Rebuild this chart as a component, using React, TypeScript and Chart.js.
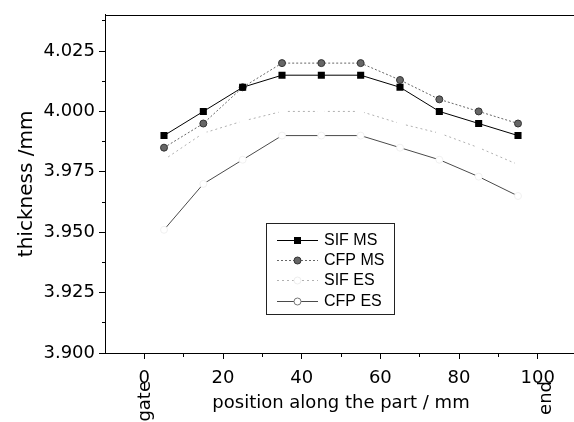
import React, { useEffect, useRef } from 'react';
import { Chart, registerables } from 'chart.js';

Chart.register(...registerables);

// ---- data ----
const positions = [5, 15, 25, 35, 45, 55, 65, 75, 85, 95];
const sifMS = [3.990, 4.000, 4.010, 4.015, 4.015, 4.015, 4.010, 4.000, 3.995, 3.990];
const cfpMS = [3.985, 3.995, 4.010, 4.020, 4.020, 4.020, 4.013, 4.005, 4.000, 3.995];
const sifES = [3.980, 3.991, 3.996, 4.000, 4.000, 4.000, 3.995, 3.991, 3.985, 3.978];
const cfpES = [3.951, 3.970, 3.980, 3.990, 3.990, 3.990, 3.985, 3.980, 3.973, 3.965];
const seriesNames = ['SIF MS', 'CFP MS', 'SIF ES', 'CFP ES'];

const xMajorTicks = [0, 20, 40, 60, 80, 100];
const xMinorTicks = [10, 30, 50, 70, 90, 110];
const yMajorTicks = [3.900, 3.925, 3.950, 3.975, 4.000, 4.025];
const yMinorTicks = [3.9125, 3.9375, 3.9625, 3.9875, 4.0125, 4.0375];
const xEndValues = [0, 102];
const xEndTexts = ['gate', 'end'];
const xTitle = 'position along the part / mm';
const yTitle = 'thickness /mm';

const isIn = (arr: number[], v: number) => arr.some((a) => Math.abs(a - v) < 1e-6);

const toPts = (ys: number[]) => positions.map((x, i) => ({ x, y: ys[i] }));

const CANVAS_W = 586;
const CANVAS_H = 422;

const extrasPlugin = {
  id: 'extras',
  afterDraw(chart: any) {
    const { ctx, chartArea, scales } = chart;
    ctx.save();
    // top frame line
    ctx.strokeStyle = '#000';
    ctx.lineWidth = 1;
    ctx.setLineDash([]);
    const ty = Math.round(chartArea.top) + 0.5;
    ctx.beginPath();
    ctx.moveTo(chartArea.left, ty);
    ctx.lineTo(chartArea.right, ty);
    ctx.stroke();

    // rotated end labels
    ctx.fillStyle = '#000';
    ctx.font = '18px "DejaVu Sans"';
    ctx.textAlign = 'right';
    ctx.textBaseline = 'middle';
    xEndValues.forEach((v, i) => {
      const px = scales.x.getPixelForValue(v);
      ctx.save();
      ctx.translate(px + 1, 381);
      ctx.rotate(-Math.PI / 2);
      ctx.fillText(xEndTexts[i], 0, 0);
      ctx.restore();
    });

    // legend box
    const bx = 266.5, by = 223.5, bw = 128, bh = 91;
    ctx.fillStyle = '#fff';
    ctx.fillRect(bx, by, bw, bh);
    ctx.strokeStyle = '#222';
    ctx.lineWidth = 1;
    ctx.strokeRect(bx, by, bw, bh);
    const legendMarker = [
      { fill: '#000', stroke: '#000' },
      { fill: '#666', stroke: '#333' },
      { fill: '#fff', stroke: '#eee' },
      { fill: '#fff', stroke: '#777' },
    ];
    ctx.font = '16px "Liberation Sans", Arial, sans-serif';
    ctx.textAlign = 'left';
    ctx.textBaseline = 'middle';
    chart.data.datasets.forEach((ds: any, i: number) => {
      const y = Math.round(240 + i * 20.2) + 0.5;
      ctx.strokeStyle = ds.borderColor;
      ctx.lineWidth = ds.borderWidth;
      ctx.setLineDash(ds.borderDash || []);
      ctx.beginPath();
      ctx.moveTo(277, y);
      ctx.lineTo(318, y);
      ctx.stroke();
      ctx.setLineDash([]);
      const m = legendMarker[i];
      ctx.fillStyle = m.fill;
      ctx.strokeStyle = m.stroke;
      if (ds.pointStyle === 'rect') {
        ctx.fillRect(294, y - 3.5, 7, 7);
      } else {
        ctx.beginPath();
        ctx.arc(297.5, y, 3.5, 0, Math.PI * 2);
        ctx.fill();
        ctx.stroke();
      }
      ctx.fillStyle = '#000';
      ctx.fillText(ds.label, 324, y + 0.5);
    });
    ctx.restore();
  },
};

export default function App() {
  const ref = useRef<HTMLCanvasElement | null>(null);

  useEffect(() => {
    if (!ref.current) return;
    const chart = new Chart(ref.current, {
      type: 'line',
      data: {
        datasets: [
          {
            label: seriesNames[0],
            data: toPts(sifMS),
            borderColor: '#000',
            borderWidth: 1,
            pointStyle: 'rect',
            pointRadius: 5,
            pointHoverRadius: 5,
            pointBackgroundColor: '#000',
            pointBorderColor: '#000',
            pointBorderWidth: 0,
          },
          {
            label: seriesNames[1],
            data: toPts(cfpMS),
            borderColor: '#666',
            borderWidth: 1,
            borderDash: [2, 2],
            pointStyle: 'circle',
            pointRadius: 3.5,
            pointHoverRadius: 3.5,
            pointBackgroundColor: '#666',
            pointBorderColor: '#333',
            pointBorderWidth: 1,
          },
          {
            label: seriesNames[2],
            data: toPts(sifES),
            borderColor: '#b0b0b0',
            borderWidth: 1,
            borderDash: [2, 3],
            pointStyle: 'circle',
            pointRadius: 3.5,
            pointHoverRadius: 3.5,
            pointBackgroundColor: '#fff',
            pointBorderColor: '#fff',
            pointBorderWidth: 0,
          },
          {
            label: seriesNames[3],
            data: toPts(cfpES),
            borderColor: '#4a4a4a',
            borderWidth: 1,
            pointStyle: 'circle',
            pointRadius: 3.5,
            pointHoverRadius: 3.5,
            pointBackgroundColor: '#fff',
            pointBorderColor: '#f0f0f0',
            pointBorderWidth: 1,
          },
        ],
      },
      options: {
        responsive: false,
        maintainAspectRatio: false,
        animation: false,
        devicePixelRatio: 1,
        events: [],
        layout: { padding: { top: 12, left: 0, right: 0, bottom: 0 } },
        elements: { line: { tension: 0 } },
        plugins: {
          legend: { display: false },
          tooltip: { enabled: false },
        },
        scales: {
          x: {
            type: 'linear',
            min: -10,
            max: 110,
            afterFit: (s: any) => { s.height = 69; },
            afterBuildTicks: (s: any) => {
              s.ticks = [...xMajorTicks, ...xMinorTicks].sort((a, b) => a - b).map((v) => ({ value: v }));
            },
            ticks: {
              autoSkip: false,
              maxRotation: 0,
              padding: 9,
              color: '#000',
              font: { family: '"DejaVu Sans"', size: 18 },
              callback: (v: any) => (isIn(xMajorTicks, Number(v)) ? String(v) : ''),
            },
            grid: {
              drawOnChartArea: false,
              drawTicks: true,
              tickLength: 6,
              tickColor: '#000',
              tickWidth: 1,
              tickBorderDash: (c: any) => (c.tick && isIn(xMinorTicks, c.tick.value) ? [3, 20] : []),
            },
            border: { display: true, color: '#000', width: 1 },
            title: {
              display: true,
              text: xTitle,
              color: '#000',
              font: { family: '"DejaVu Sans"', size: 18 },
              padding: { top: 0, bottom: 8 },
            },
          },
          y: {
            type: 'linear',
            min: 3.9,
            max: 4.04,
            afterFit: (s: any) => { s.width = 105; },
            afterBuildTicks: (s: any) => {
              s.ticks = [...yMajorTicks, ...yMinorTicks].sort((a, b) => a - b).map((v) => ({ value: v }));
            },
            ticks: {
              autoSkip: false,
              padding: 4,
              color: '#000',
              font: { family: '"DejaVu Sans"', size: 18 },
              callback: (v: any) => (isIn(yMajorTicks, Number(v)) ? Number(v).toFixed(3) : ''),
            },
            grid: {
              drawOnChartArea: false,
              drawTicks: true,
              tickLength: 6,
              tickColor: '#000',
              tickWidth: 1,
              tickBorderDash: (c: any) => (c.tick && isIn(yMinorTicks, c.tick.value) ? [0, 3, 3, 20] : []),
            },
            border: { display: true, color: '#000', width: 1 },
            title: {
              display: true,
              text: yTitle,
              color: '#000',
              font: { family: '"DejaVu Sans"', size: 20 },
              padding: { top: 15, bottom: 0 },
            },
          },
        },
      },
      plugins: [extrasPlugin],
    } as any);
    return () => chart.destroy();
  }, []);

  return (
    <div style={{ position: 'fixed', left: 0, top: 0, width: CANVAS_W, height: CANVAS_H, background: '#fff' }}>
      <canvas ref={ref} width={CANVAS_W} height={CANVAS_H} style={{ display: 'block' }} />
    </div>
  );
}
